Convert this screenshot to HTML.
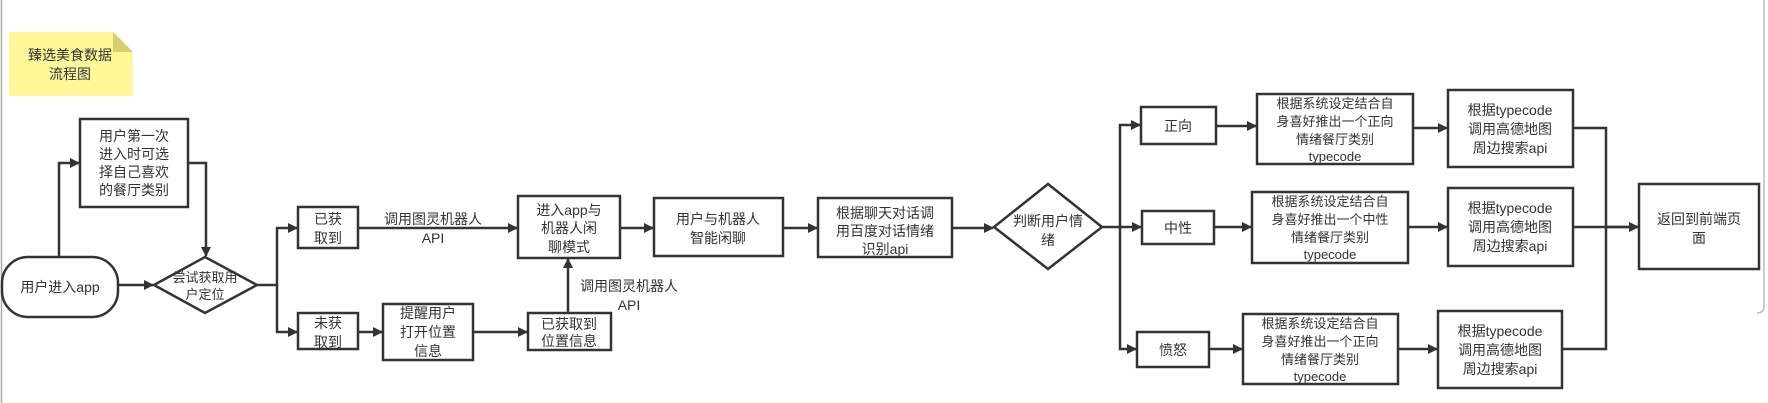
<!DOCTYPE html>
<html><head><meta charset="utf-8"><style>
html,body{margin:0;padding:0;background:#fff;}
svg{display:block;}
text{font-family:"Liberation Sans","Noto Sans CJK SC",sans-serif;font-size:14px;fill:#333;text-anchor:middle;}
</style></head><body>
<svg width="1768" height="403" viewBox="0 0 1768 403" xmlns="http://www.w3.org/2000/svg">
<defs><marker id="a" markerWidth="10" markerHeight="10" refX="9" refY="5" orient="auto" markerUnits="userSpaceOnUse"><path d="M0,0 L10,5 L0,10 z" fill="#333"/></marker></defs>
<line x1="1.5" y1="0" x2="1.5" y2="403" stroke="#aaa" stroke-width="1.5"/>
<path d="M1764 0 V306 Q1764 313 1757 313" fill="none" stroke="#bbb" stroke-width="1.5"/>
<path d="M9 32 H113 L133 52 V96 H9 z" fill="#fdf79a"/>
<path d="M113 32 L133 52 H113 z" fill="#d6cf6e"/>
<text x="70" y="60">臻选美食数据</text><text x="70" y="79">流程图</text>
<g fill="#fff" stroke="#333" stroke-width="2.5">
<rect x="2" y="257" width="116" height="60" rx="26"/>
<rect x="80" y="119" width="108" height="88"/>
<polygon points="154,285 205,257 257,285 205,313"/>
<rect x="298" y="207" width="60" height="41"/>
<rect x="298" y="313" width="60" height="36"/>
<rect x="383" y="304" width="90" height="56"/>
<rect x="528" y="313" width="83" height="37"/>
<rect x="518" y="196" width="102" height="62"/>
<rect x="654" y="198" width="129" height="58"/>
<rect x="818" y="198" width="134" height="59"/>
<polygon points="994,227 1048,184 1102,227 1048,269"/>
<rect x="1141" y="107" width="75" height="37"/>
<rect x="1142" y="211" width="72" height="33"/>
<rect x="1137" y="332" width="72" height="35"/>
<rect x="1257" y="94" width="156" height="70"/>
<rect x="1252" y="192" width="156" height="71"/>
<rect x="1243" y="314" width="155" height="70"/>
<rect x="1448" y="90" width="125" height="77"/>
<rect x="1448" y="188" width="125" height="78"/>
<rect x="1438" y="311" width="124" height="77"/>
<rect x="1639" y="184" width="120" height="85"/>
</g>
<g fill="none" stroke="#333" stroke-width="2.5" marker-end="url(#a)">
<path d="M59 257 V163 H79"/>
<path d="M188 163 H206 V256"/>
<path d="M118 285 H153"/>
<path d="M257 285 H277 V228 H297"/>
<path d="M277 285 V332 H297"/>
<path d="M358 228 H517"/>
<path d="M358 332 H382"/>
<path d="M473 332 H527"/>
<path d="M568 313 V259"/>
<path d="M620 228 H653"/>
<path d="M783 228 H817"/>
<path d="M952 228 H993"/>
<path d="M1102 227 H1120 V125 H1140"/>
<path d="M1120 227 H1141"/>
<path d="M1120 227 V349 H1136"/>
<path d="M1216 126 H1256"/>
<path d="M1214 227 H1251"/>
<path d="M1209 349 H1242"/>
<path d="M1413 128 H1447"/>
<path d="M1408 227 H1447"/>
<path d="M1398 349 H1437"/>
<path d="M1573 128 H1606 V227 H1638"/>
<path d="M1573 227 H1638"/>
</g>
<path d="M1562 349 H1606 V227" fill="none" stroke="#333" stroke-width="2.5"/>
<text x="60" y="292">用户进入app</text>
<text x="134" y="141">用户第一次</text><text x="134" y="159">进入时可选</text><text x="134" y="177">择自己喜欢</text><text x="134" y="195">的餐厅类别</text>
<text x="205" y="282" style="font-size:13px">尝试获取用</text><text x="205" y="299" style="font-size:13px">户定位</text>
<text x="328" y="224">已获</text><text x="328" y="243">取到</text>
<text x="328" y="328">未获</text><text x="328" y="347">取到</text>
<text x="433" y="224">调用图灵机器人</text><text x="433" y="243">API</text>
<text x="428" y="318">提醒用户</text><text x="428" y="337">打开位置</text><text x="428" y="356">信息</text>
<text x="569" y="329">已获取到</text><text x="569" y="346">位置信息</text>
<text x="629" y="291">调用图灵机器人</text><text x="629" y="310">API</text>
<text x="569" y="215">进入app与</text><text x="569" y="233">机器人闲</text><text x="569" y="252">聊模式</text>
<text x="718" y="224">用户与机器人</text><text x="718" y="243">智能闲聊</text>
<text x="885" y="218">根据聊天对话调</text><text x="885" y="236">用百度对话情绪</text><text x="885" y="254">识别api</text>
<text x="1048" y="226">判断用户情</text><text x="1048" y="245">绪</text>
<text x="1178" y="131">正向</text>
<text x="1178" y="233">中性</text>
<text x="1173" y="355">愤怒</text>
<text x="1335" y="108" style="font-size:13px">根据系统设定结合自</text><text x="1335" y="126" style="font-size:13px">身喜好推出一个正向</text><text x="1335" y="144" style="font-size:13px">情绪餐厅类别</text><text x="1335" y="161" style="font-size:13px">typecode</text>
<text x="1330" y="206" style="font-size:13px">根据系统设定结合自</text><text x="1330" y="224" style="font-size:13px">身喜好推出一个中性</text><text x="1330" y="242" style="font-size:13px">情绪餐厅类别</text><text x="1330" y="259" style="font-size:13px">typecode</text>
<text x="1320" y="328" style="font-size:13px">根据系统设定结合自</text><text x="1320" y="346" style="font-size:13px">身喜好推出一个正向</text><text x="1320" y="364" style="font-size:13px">情绪餐厅类别</text><text x="1320" y="381" style="font-size:13px">typecode</text>
<text x="1510" y="115">根据typecode</text><text x="1510" y="134">调用高德地图</text><text x="1510" y="153">周边搜索api</text>
<text x="1510" y="213">根据typecode</text><text x="1510" y="232">调用高德地图</text><text x="1510" y="251">周边搜索api</text>
<text x="1500" y="336">根据typecode</text><text x="1500" y="355">调用高德地图</text><text x="1500" y="374">周边搜索api</text>
<text x="1699" y="224">返回到前端页</text><text x="1699" y="243">面</text>
</svg>
</body></html>
